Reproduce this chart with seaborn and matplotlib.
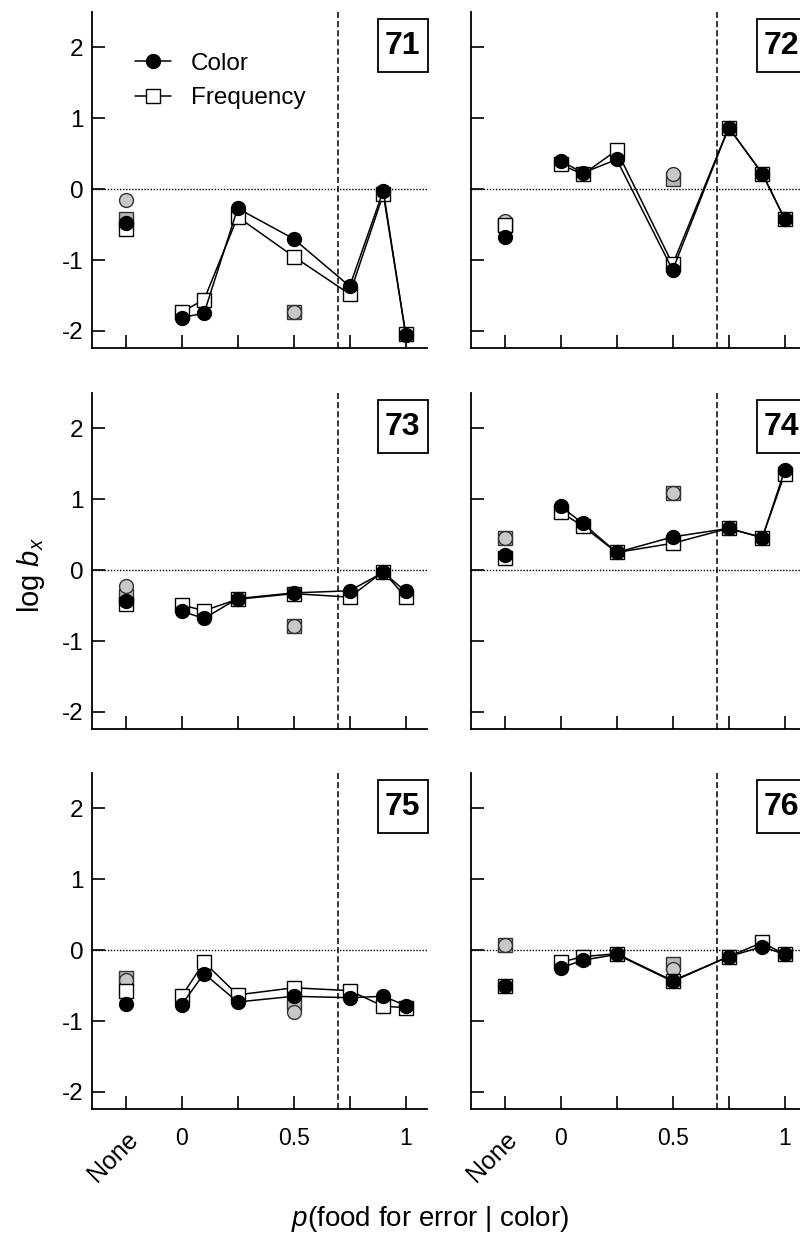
import numpy as np
import pandas as pd
import matplotlib
matplotlib.use('Agg')
import matplotlib.pyplot as plt
import seaborn as sns
from matplotlib.patches import Rectangle

# ── data ─────────────────────────────────────────────────────
subjects = ['71', '72', '73', '74', '75', '76']
x_levels = [0, 0.1, 0.25, 0.5, 0.75, 0.9, 1.0]
none_x = -0.25
half_x = 0.5

color_vals = {
    '71': [-1.81, -1.75, -0.27, -0.70, -1.37, -0.02, -2.06],
    '72': [0.40, 0.23, 0.42, -1.14, 0.87, 0.22, -0.42],
    '73': [-0.58, -0.68, -0.40, -0.32, -0.29, -0.03, -0.30],
    '74': [0.90, 0.66, 0.25, 0.47, 0.59, 0.46, 1.41],
    '75': [-0.77, -0.33, -0.73, -0.65, -0.67, -0.65, -0.78],
    '76': [-0.25, -0.14, -0.06, -0.44, -0.09, 0.05, -0.06],
}
freq_vals = {
    '71': [-1.73, -1.56, -0.39, -0.95, -1.48, -0.07, -2.04],
    '72': [0.35, 0.21, 0.55, -1.06, 0.87, 0.22, -0.42],
    '73': [-0.49, -0.57, -0.41, -0.33, -0.38, -0.02, -0.38],
    '74': [0.82, 0.62, 0.25, 0.38, 0.59, 0.46, 1.36],
    '75': [-0.65, -0.17, -0.63, -0.53, -0.57, -0.79, -0.81],
    '76': [-0.17, -0.09, -0.05, -0.43, -0.09, 0.11, -0.06],
}
# baseline ("None") points
color_none = {'71': -0.48, '72': -0.68, '73': -0.43, '74': 0.22, '75': -0.76, '76': -0.50}
freq_none = {'71': -0.56, '72': -0.51, '73': -0.47, '74': 0.17, '75': -0.58, '76': -0.50}
# extra (gray) conditions: [at None, at 0.5]
gray_circle = {'71': [-0.15, -1.73], '72': [-0.45, 0.21], '73': [-0.22, -0.78],
               '74': [0.46, 1.09], '75': [-0.42, -0.87], '76': [0.08, -0.27]}
gray_square = {'71': [-0.42, -1.73], '72': [-0.51, 0.14], '73': [-0.36, -0.78],
               '74': [0.46, 1.09], '75': [-0.39, -0.74], '76': [0.08, -0.19]}

xtick_pos = [-0.25, 0, 0.25, 0.5, 0.75, 1.0]
xtick_lab = ['None', '0', '', '0.5', '', '1']
ytick_pos = [-2, -1, 0, 1, 2]

# ── style ─────────────────────────────────────────────────────
sns.set_theme(style='ticks')
plt.rcParams['font.family'] = ['Liberation Sans', 'DejaVu Sans']
plt.rcParams['mathtext.fontset'] = 'custom'
plt.rcParams['mathtext.rm'] = 'Liberation Sans'
plt.rcParams['mathtext.it'] = 'Liberation Sans:italic'
for key in ['text.color', 'axes.labelcolor', 'xtick.color', 'ytick.color',
            'axes.edgecolor', 'xtick.labelcolor', 'ytick.labelcolor']:
    plt.rcParams[key] = 'black'

W, H = 800, 1237
fig = plt.figure(figsize=(W / 100, H / 100), dpi=100)
fig.patch.set_facecolor('white')

col_left = [92, 471]
row_top = [12, 393, 773]
ax_w, ax_h = 335, 336

ms = 10
gray_fc = '#c8c8c8'
gray_sq_fc = '#b8b8b8'

for i, subj in enumerate(subjects):
    r, c = divmod(i, 2)
    l, t = col_left[c], row_top[r]
    ax = fig.add_axes([l / W, 1 - (t + ax_h) / H, ax_w / W, ax_h / H])
    ax.set_facecolor('white')

    ax.axhline(0, color='black', ls=(0, (1, 1.2)), lw=1.0, zorder=1)
    ax.axvline(0.7, color='black', ls=(0, (4, 2)), lw=1.1, zorder=1)

    # gray extra conditions
    ax.plot([none_x, half_x], gray_square[subj], ls='none', marker='s', ms=ms,
            mfc=gray_sq_fc, mec='#333333', mew=1.0, zorder=2)
    ax.plot([none_x, half_x], gray_circle[subj], ls='none', marker='o', ms=ms,
            mfc=gray_fc, mec='#333333', mew=1.0, zorder=2)

    df = pd.DataFrame({'x': x_levels, 'color': color_vals[subj], 'freq': freq_vals[subj]})
    sns.lineplot(data=df, x='x', y='freq', ax=ax, color='black', lw=1.1,
                 marker='s', markersize=ms, markerfacecolor='white',
                 markeredgecolor='black', markeredgewidth=1.0,
                 label='Frequency', zorder=3)
    sns.lineplot(data=df, x='x', y='color', ax=ax, color='black', lw=1.1,
                 marker='o', markersize=ms, markerfacecolor='black',
                 markeredgecolor='black', markeredgewidth=1.0,
                 label='Color', zorder=4)
    ax.plot([none_x], [freq_none[subj]], ls='none', marker='s', ms=ms,
            mfc='white', mec='black', mew=1.0, zorder=3)
    ax.plot([none_x], [color_none[subj]], ls='none', marker='o', ms=ms,
            mfc='black', mec='black', mew=1.0, zorder=4)

    ax.set_xlim(-0.40, 1.095)
    ax.set_ylim(-2.24, 2.5)
    ax.set_xlabel('')
    ax.set_ylabel('')
    ax.set_xticks(xtick_pos)
    ax.set_yticks(ytick_pos)
    ax.tick_params(direction='in', length=9.5, width=1.2, color='black',
                   labelcolor='black')
    ax.tick_params(axis='x', pad=13, labelsize=16.5)
    ax.tick_params(axis='y', pad=6, labelsize=17.5)
    if r == 2:
        ax.set_xticklabels(xtick_lab, fontsize=16.5)
        lab = ax.get_xticklabels()[0]
        lab.set_rotation(45)
        lab.set_ha('right')
        lab.set_rotation_mode('anchor')
        lab.set_fontsize(18)
    else:
        ax.set_xticklabels([])
    if c == 0:
        ax.set_yticklabels([str(v) for v in ytick_pos])
    else:
        ax.set_yticklabels([])

    sns.despine(ax=ax)
    for s in ['left', 'bottom']:
        ax.spines[s].set_linewidth(1.3)
        ax.spines[s].set_color('black')

    # subject number box
    bw, bh = 50 / ax_w, 53 / ax_h
    bx, by = 0.853, 0.979 - bh
    ax.add_patch(Rectangle((bx, by), bw, bh, transform=ax.transAxes, fc='white',
                           ec='black', lw=1.3, zorder=6, clip_on=False))
    ax.text(bx + bw / 2, by + bh / 2, subj, transform=ax.transAxes, ha='center',
            va='center', fontsize=23, fontweight='bold', color='black', zorder=7)

    if i == 0:
        h, lb = ax.get_legend_handles_labels()
        order = [lb.index('Color'), lb.index('Frequency')]
        leg = ax.legend([h[k] for k in order], [lb[k] for k in order],
                        loc='upper left', bbox_to_anchor=(0.128, 0.878),
                        frameon=False, fontsize=17.5, handlelength=1.5,
                        handletextpad=0.8, labelspacing=0.5, borderpad=0,
                        borderaxespad=0, numpoints=1)
        for txt in leg.get_texts():
            txt.set_color('black')
    else:
        leg = ax.get_legend()
        if leg is not None:
            leg.remove()

fig.text(31 / W, 1 - 575 / H, r'log $b_x$', rotation=90, ha='center', va='center',
         fontsize=21, color='black')
fig.text(430 / W, 1 - 1219 / H, r'$p$(food for error | color)', ha='center',
         va='center', fontsize=20, color='black')

fig.savefig('out.png', dpi=100, facecolor='white')
